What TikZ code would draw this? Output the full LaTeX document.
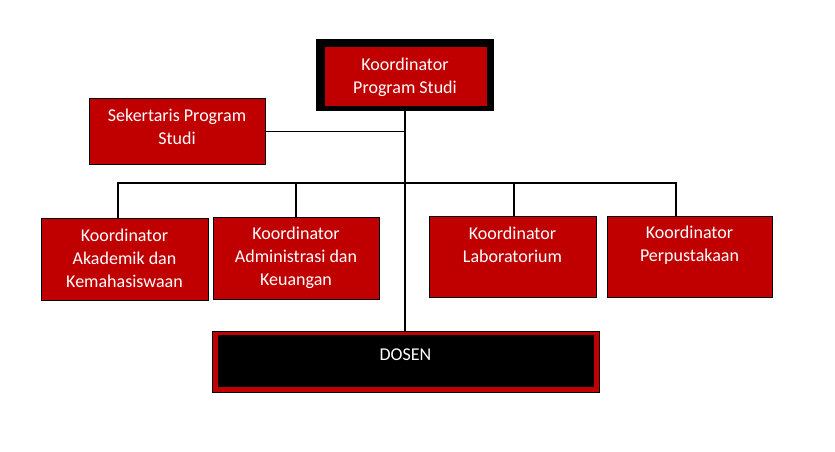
\documentclass[tikz,border=0pt]{standalone}
\usepackage{fontspec}
\setmainfont{Carlito}
\definecolor{dred}{HTML}{C00000}
\begin{document}
\begin{tikzpicture}[x=1pt,y=-1pt,
  redbox/.style={draw=black,line width=0.9pt,fill=dred,anchor=north west,inner sep=0pt},
  lbl/.style={text=white,align=center,inner sep=0pt,font=\fontsize{18}{23}\selectfont},
  conn/.style={draw=black,line width=1.3pt}]
\useasboundingbox (0,0) rectangle (835,451);
% top box
\node[draw=none,fill=black,anchor=north west,minimum width=178pt,minimum height=72pt,inner sep=0pt] (top) at (316,39) {};
\node[fill=dred,anchor=north west,minimum width=162pt,minimum height=59pt,inner sep=0pt] (topin) at (325,47) {};
\node[lbl] (toptxt) at (405,77) {Koordinator\\Program Studi};
% secretary
\node[redbox,minimum width=176pt,minimum height=66pt] (sek) at (89,98) {};
\node[lbl] (sektxt) at (177,127) {Sekertaris Program\\Studi};
% coordinators
\node[redbox,minimum width=167pt,minimum height=82pt] (k1) at (41,218) {};
\node[lbl] (k1txt) at (124.5,258.5) {Koordinator\\Akademik dan\\Kemahasiswaan};
\node[redbox,minimum width=166pt,minimum height=82pt] (k2) at (213,217) {};
\node[lbl] (k2txt) at (296,257.5) {Koordinator\\Administrasi dan\\Keuangan};
\node[redbox,minimum width=167pt,minimum height=81pt] (k3) at (429,216) {};
\node[lbl] (k3txt) at (512.5,245) {Koordinator\\Laboratorium};
\node[redbox,minimum width=165pt,minimum height=81pt] (k4) at (607,216) {};
\node[lbl] (k4txt) at (689.5,245) {Koordinator\\Perpustakaan};
% dosen
\node[redbox,minimum width=387pt,minimum height=61pt] (dosen) at (212,331) {};
\node[fill=black,anchor=north west,minimum width=376pt,minimum height=52pt,inner sep=0pt] (dosenin) at (217.5,335) {};
\node[lbl] (dosentxt) at (405.5,355) {DOSEN};
% connectors
\coordinate (busL) at (118,183);
\coordinate (busR) at (676,183);
\coordinate (b2) at (296,183);
\coordinate (b3) at (514,183);
\draw[conn,line width=2pt] (top.south) -- (top.south |- dosen.north);
\draw[conn] (sek.east) -- (sek.east -| top.south);
\draw[conn] (busL |- k1.north) -- (busL) -- (busR) -- (busR |- k4.north);
\draw[conn] (b2) -- (b2 |- k2.north);
\draw[conn] (b3) -- (b3 |- k3.north);
\end{tikzpicture}
\end{document}
